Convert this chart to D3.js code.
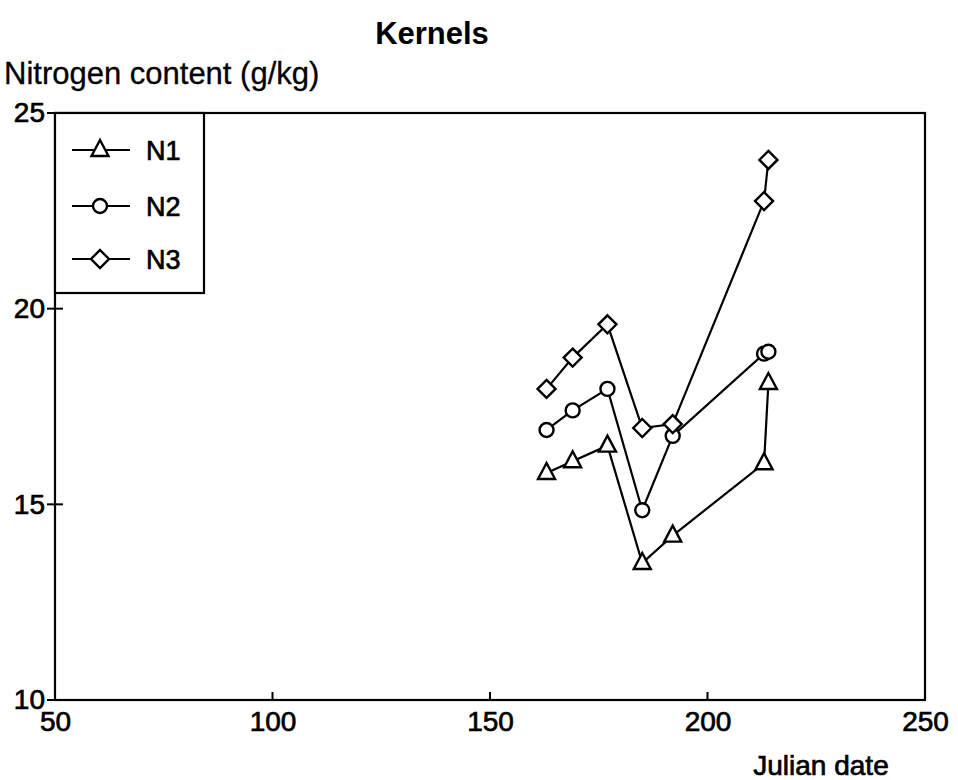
<!DOCTYPE html>
<html><head><meta charset="utf-8">
<script src="https://cdn.jsdelivr.net/npm/d3@7"></script>
<style>body{margin:0;background:#fff}svg{display:block}text{font-family:"Liberation Sans",Arial,sans-serif;fill:#000}</style>
</head><body><svg id="c" width="958" height="780"></svg>
<script>
const dates = [163, 169, 177, 185, 192, 213, 214];
const n1 = [15.8, 16.1, 16.5, 13.5, 14.2, 16.05, 18.1];
const n2 = [16.9, 17.4, 17.95, 14.85, 16.75, 18.85, 18.9];
const n3 = [17.95, 18.75, 19.6, 16.95, 17.05, 22.75, 23.8];
const seriesNames = ["N1", "N2", "N3"];
const seriesSymbols = ["triangle", "circle", "diamond"];
const xTicks = [50, 100, 150, 200, 250];
const yTicks = [10, 15, 20, 25];

const svg = d3.select("#c");
const L = 55, R = 925, T = 113, B = 700;
const x = d3.scaleLinear().domain([50, 250]).range([L, R]);
const y = d3.scaleLinear().domain([10, 25]).range([B, T]);

const series = [n1, n2, n3].map((vals, i) => ({name: seriesNames[i], sym: seriesSymbols[i], pts: dates.map((d, j) => [d, vals[j]])}));

function heavy(sel, w) { sel.attr("stroke", "#000").attr("stroke-width", w).attr("fill", "#000"); }

// frame
svg.append("rect").attr("x", L).attr("y", T).attr("width", R - L).attr("height", B - T)
  .attr("fill", "none").attr("stroke", "#000").attr("stroke-width", 2.2);

// axes
const xAxis = svg.append("g").attr("transform", `translate(0,${B})`)
  .call(d3.axisBottom(x).tickValues(xTicks).tickSize(0).tickPadding(11).tickFormat(d3.format("d")));
xAxis.select(".domain").remove();
xAxis.selectAll("text").attr("font-size", 28).attr("dy", "0.72em").call(heavy, 0.7);
svg.append("g").selectAll("line").data(xTicks).join("line")
  .attr("x1", d => x(d)).attr("x2", d => x(d)).attr("y1", B).attr("y2", B - 8)
  .attr("stroke", "#000").attr("stroke-width", 2);

const yAxis = svg.append("g").attr("transform", `translate(${L},0)`)
  .call(d3.axisLeft(y).tickValues(yTicks).tickSize(0).tickPadding(10).tickFormat(d3.format("d")));
yAxis.select(".domain").remove();
yAxis.selectAll("text").attr("font-size", 28).call(heavy, 0.7);
svg.append("g").selectAll("line").data(yTicks).join("line")
  .attr("x1", L - 8).attr("x2", L + 8).attr("y1", d => y(d)).attr("y2", d => y(d))
  .attr("stroke", "#000").attr("stroke-width", 2);

// symbols
function sym(g, type, cx, cy) {
  if (type === "triangle") {
    g.append("path").attr("d", `M${cx},${cy - 10}L${cx + 8.5},${cy + 6}L${cx - 8.5},${cy + 6}Z`)
      .attr("fill", "#fff").attr("stroke", "#000").attr("stroke-width", 2.4);
  } else if (type === "circle") {
    g.append("circle").attr("cx", cx).attr("cy", cy).attr("r", 7)
      .attr("fill", "#fff").attr("stroke", "#000").attr("stroke-width", 2.4);
  } else {
    g.append("path").attr("d", `M${cx},${cy - 9}L${cx + 9},${cy}L${cx},${cy + 9}L${cx - 9},${cy}Z`)
      .attr("fill", "#fff").attr("stroke", "#000").attr("stroke-width", 2.4);
  }
}

const line = d3.line().x(d => x(d[0])).y(d => y(d[1]));
const plot = svg.append("g");
series.forEach(s => {
  plot.append("path").attr("d", line(s.pts)).attr("fill", "none").attr("stroke", "#000").attr("stroke-width", 2.2);
});
series.forEach(s => {
  const g = plot.append("g");
  s.pts.forEach(p => sym(g, s.sym, x(p[0]), y(p[1])));
});

// legend
const lg = svg.append("g");
lg.append("rect").attr("x", L).attr("y", T).attr("width", 149).attr("height", 180)
  .attr("fill", "#fff").attr("stroke", "#000").attr("stroke-width", 2.2);
const legY = [150, 206, 259];
series.forEach((s, i) => {
  const cy = legY[i];
  lg.append("line").attr("x1", 72).attr("x2", 130).attr("y1", cy).attr("y2", cy).attr("stroke", "#000").attr("stroke-width", 2.2);
  sym(lg, s.sym, 100, cy);
  lg.append("text").attr("x", 146).attr("y", cy).attr("dy", "0.36em").attr("font-size", 27).call(heavy, 0.7).text(s.name);
});

// titles
svg.append("text").attr("x", 432).attr("y", 44).attr("text-anchor", "middle").attr("font-size", 31).attr("font-weight", "bold").text("Kernels");
svg.append("text").attr("x", 4).attr("y", 84).attr("font-size", 31).attr("fill", "#000").attr("stroke", "#000").attr("stroke-width", 0.3).text("Nitrogen content (g/kg)");
svg.append("text").attr("x", 821).attr("y", 775).attr("text-anchor", "middle").attr("font-size", 28).call(heavy, 0.7).text("Julian date");
</script></body></html>
